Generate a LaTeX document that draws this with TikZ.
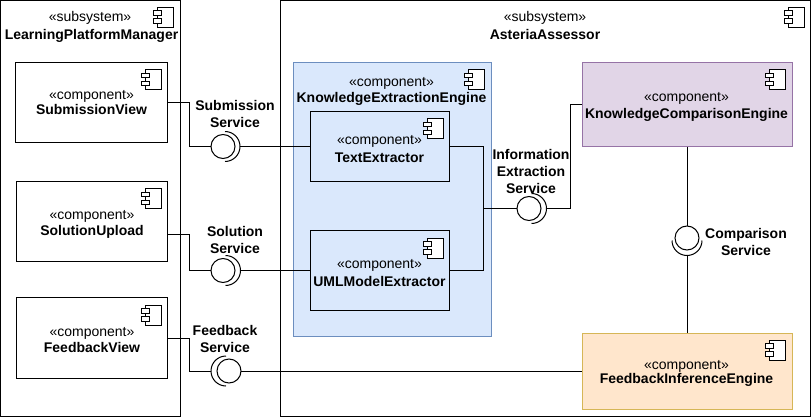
\documentclass[tikz,border=0pt]{standalone}
\usepackage{fontspec}
\setmainfont{Liberation Sans}
\definecolor{blueF}{HTML}{DAE8FC}\definecolor{blueD}{HTML}{6C8EBF}
\definecolor{purpF}{HTML}{E1D5E7}\definecolor{purpD}{HTML}{9673A6}
\definecolor{orF}{HTML}{FFE6CC}\definecolor{orD}{HTML}{D6B656}
\tikzset{
 boxs/.style={draw=black,line width=1pt,anchor=north west,inner sep=0pt,outer sep=0pt},
 blab/.style={anchor=base,inner sep=0pt,text=black,font=\fontsize{14}{14}\selectfont\bfseries},
 lab/.style={anchor=base,inner sep=0pt,text=black,font=\fontsize{14}{14}\selectfont},
 lolli/.style={circle,draw=black,line width=1pt,minimum size=24pt,inner sep=0pt,outer sep=0pt},
 conn/.style={draw=black,line width=1pt},
 sock/.style={draw=black,line width=1pt},
}
\newcommand{\compicon}[2]{% right x, top y of icon
 \draw[black,line width=1pt,fill=white] (#1-16,#2) rectangle (#1,#2+20);
 \draw[black,line width=1pt,fill=white] (#1-20,#2+3.5) rectangle (#1-12,#2+8);
 \draw[black,line width=1pt,fill=white] (#1-20,#2+11.5) rectangle (#1-12,#2+16);
}
\newcommand{\boxat}[6]{% name,x1,y1,x2,y2,opts
 \path let \n1={#4-#2},\n2={#5-#3} in node[boxs,#6,minimum width=\n1 pt,minimum height=\n2 pt] (#1) at (#2,#3) {};
}
\usetikzlibrary{calc}
\begin{document}
\begin{tikzpicture}[x=1pt,y=-1pt]
\useasboundingbox (0,0) rectangle (811,417);
\fill[white] (0,0) rectangle (811,417);
% subsystems
\boxat{lpm}{0.5}{0.5}{180.5}{416}{}
\boxat{ast}{280.5}{0.5}{810.5}{416}{}
\compicon{173.5}{7.5}
\compicon{804}{7.5}
\node[lab] (lpmS) at (90,22) {«subsystem»};
\node[blab] (lpmN) at (91.5,40) {LearningPlatformManager};
\node[lab] (astS) at (545,22) {«subsystem»};
\node[blab] (astN) at (545,40) {AsteriaAssessor};
% left components
\boxat{sv}{15.5}{62.5}{167.5}{142.5}{}
\compicon{161}{70}
\node[lab] (svS) at (91.5,99.5) {«component»};
\node[blab] (svN) at (91.5,115) {SubmissionView};
\boxat{su}{16.5}{181.5}{167.5}{261.5}{}
\compicon{161}{188.5}
\node[lab] (suS) at (92,219) {«component»};
\node[blab] (suN) at (92,235) {SolutionUpload};
\boxat{fv}{16.5}{297.5}{167.5}{378}{}
\compicon{161}{305}
\node[lab] (fvS) at (92,336) {«component»};
\node[blab] (fvN) at (92,352) {FeedbackView};
% engine
\boxat{kee}{293.5}{62.5}{491}{336}{fill=blueF,draw=blueD}
\compicon{484}{70}
\node[lab] (keeS) at (391.5,87) {«component»};
\node[blab] (keeN) at (391.5,103) {KnowledgeExtractionEngine};
\boxat{te}{310}{111.5}{449.5}{181.5}{}
\compicon{443}{119}
\node[lab] (teS) at (379.5,144) {«component»};
\node[blab] (teN) at (379.5,162) {TextExtractor};
\boxat{um}{310}{230.5}{449.5}{310.5}{}
\compicon{443}{238}
\node[lab] (umS) at (379.5,268) {«component»};
\node[blab] (umN) at (379.5,286) {UMLModelExtractor};
\boxat{kce}{582}{62.5}{792}{147}{fill=purpF,draw=purpD}
\compicon{785.5}{70}
\node[lab] (kceS) at (686.5,102) {«component»};
\node[blab] (kceN) at (686.5,119) {KnowledgeComparisonEngine};
\boxat{fie}{582}{333}{792}{409}{fill=orF,draw=orD}
\compicon{785.5}{340}
\node[lab] (fieS) at (686.5,369) {«component»};
\node[blab] (fieN) at (686.5,383) {FeedbackInferenceEngine};
% lollipops
\node[lolli] (cSub) at (223,146.5) {};
\coordinate (sSub) at (240,146.5);
\draw[sock] (225,131.5) arc[start angle=90,end angle=-90,radius=15pt];
\node[lolli] (cSol) at (223,270.5) {};
\coordinate (sSol) at (240.5,270.5);
\draw[sock] (225.5,255.5) arc[start angle=90,end angle=-90,radius=15pt];
\node[lolli] (cFb) at (229,371) {};
\coordinate (sFb) at (211,371);
\draw[sock] (226,356) arc[start angle=90,end angle=270,radius=15pt];
\node[lolli] (cInf) at (529,208.5) {};
\coordinate (sInf) at (546.5,208.5);
\draw[sock] (531.5,193.5) arc[start angle=90,end angle=-90,radius=15pt];
\node[lolli] (cCmp) at (687,238) {};
\coordinate (sCmp) at (687,255.5);
\draw[sock] (672,240.5) arc[start angle=180,end angle=360,radius=15pt];
% connectors
\coordinate (b1) at (189.5,102.5);
\coordinate (b2) at (189.5,234.5);
\coordinate (b3) at (189.5,338);
\coordinate (jn) at (483,208.5);
\coordinate (o1) at (570,208.5);
\draw[conn] (sv.east) -- (b1) |- (cSub.west);
\draw[conn] (sSub) -- (sSub -| te.west);
\draw[conn] (su.east |- b2) -- (b2) |- (cSol.west);
\draw[conn] (sSol) -- (sSol -| um.west);
\draw[conn] (fv.east |- b3) -- (b3) |- (sFb);
\draw[conn] (cFb.east) -- (cFb.east -| fie.west);
\draw[conn] (te.east) -| (jn);
\draw[conn] (um.east) -| (jn);
\draw[conn] (jn) -- (cInf.west);
\draw[conn] (sInf) -- (o1) |- (kce.west);
\draw[conn] (kce.south -| cCmp) -- (cCmp.north);
\draw[conn] (sCmp) -- (fie.north -| sCmp);
% service labels
\node[blab] (l1a) at (235,111) {Submission};
\node[blab] (l1b) at (235,128) {Service};
\node[blab] (l2a) at (235,236.7) {Solution};
\node[blab] (l2b) at (235,253.5) {Service};
\node[blab] (l3a) at (225,335.7) {Feedback};
\node[blab] (l3b) at (225,352.7) {Service};
\node[blab] (l4a) at (531,159) {Information};
\node[blab] (l4b) at (531,176) {Extraction};
\node[blab] (l4c) at (531,193) {Service};
\node[blab] (l5a) at (746,238) {Comparison};
\node[blab] (l5b) at (746,255) {Service};
\end{tikzpicture}
\end{document}
